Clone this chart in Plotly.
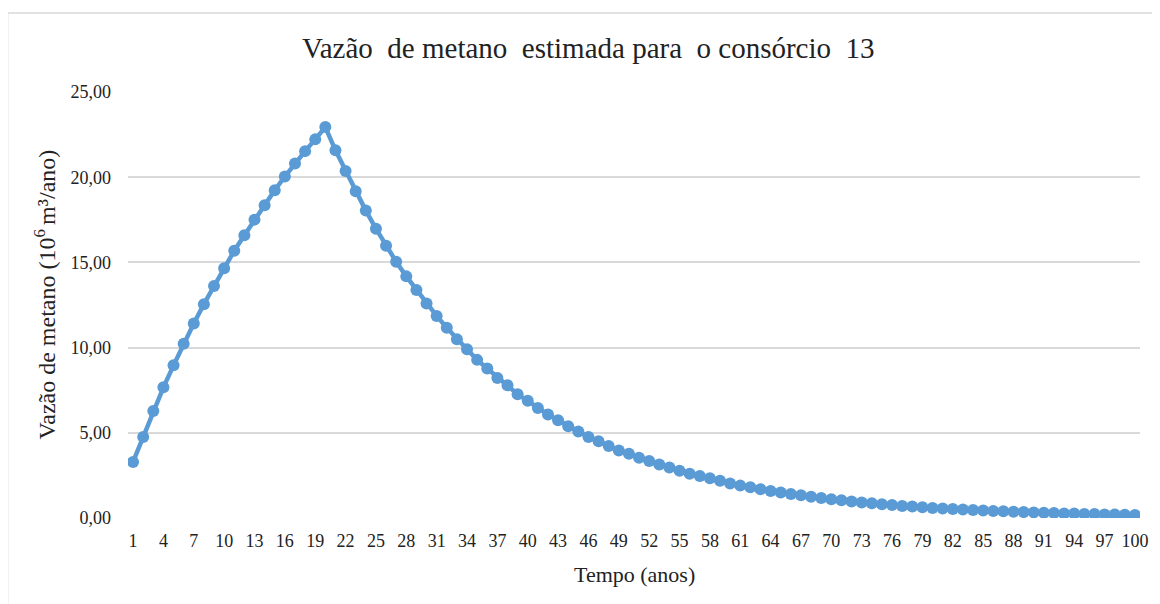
import plotly.graph_objects as go

# ---- data ----
anos = list(range(1, 101))
vazao = [
    3.29, 4.76, 6.28, 7.67, 8.96, 10.22, 11.41, 12.55, 13.61, 14.65,
    15.69, 16.59, 17.51, 18.35, 19.24, 20.04, 20.81, 21.53, 22.22, 22.94,
    21.58, 20.37, 19.18, 18.04, 16.98, 15.98, 15.04, 14.18, 13.38, 12.59,
    11.86, 11.16, 10.49, 9.90, 9.28, 8.77, 8.22, 7.79, 7.26, 6.88,
    6.45, 6.08, 5.74, 5.39, 5.08, 4.76, 4.51, 4.22, 3.96, 3.77,
    3.53, 3.34, 3.14, 2.96, 2.77, 2.60, 2.47, 2.33, 2.18, 2.03,
    1.90, 1.80, 1.69, 1.59, 1.49, 1.41, 1.33, 1.25, 1.18, 1.10,
    1.04, 0.97, 0.91, 0.86, 0.81, 0.76, 0.71, 0.67, 0.63, 0.59,
    0.56, 0.53, 0.50, 0.47, 0.44, 0.41, 0.39, 0.37, 0.35, 0.33,
    0.31, 0.29, 0.27, 0.26, 0.24, 0.23, 0.21, 0.20, 0.19, 0.17,
]
x_tick_vals = [1, 4, 7, 10, 13, 16, 19, 22, 25, 28, 31, 34, 37, 40, 43, 46, 49,
               52, 55, 58, 61, 64, 67, 70, 73, 76, 79, 82, 85, 88, 91, 94, 97, 100]
y_tick_vals = [0, 5, 10, 15, 20, 25]

titulo = "Vazão\u00a0 de metano\u00a0 estimada para\u00a0 o consórcio\u00a0 13"
titulo_x = "Tempo (anos)"
titulo_y = "Vazão de metano (10<sup>6 </sup>m³/ano)"

FONT = "Liberation Serif, Times New Roman, serif"
BLUE = "#5B9BD5"
GRID = "#D9D9D9"
TXT = "#222222"

# page body has an 8px margin: the figure is drawn offset by (8, 8)
OFF = 8
W, H = 1160 - OFF, 604 - OFF
# plot area in page pixels: x 128..1145, y 92..518
L = 128 - OFF
R = W - (1145 - OFF)
T = 92 - OFF
B = H - (518 - OFF)

fig = go.Figure()
fig.add_trace(go.Scatter(
    x=anos, y=vazao, mode="lines+markers",
    line=dict(color=BLUE, width=4.5),
    marker=dict(color=BLUE, size=12),
    showlegend=False, hoverinfo="x+y",
))

pw = W - L - R
ph = H - T - B


def px_to_paper_x(px):
    return (px - OFF - L) / pw


def py_to_paper_y(py):
    return (H - B - (py - OFF)) / ph


fig.update_layout(
    width=W, height=H,
    margin=dict(l=L, r=R, t=T, b=B),
    paper_bgcolor="white", plot_bgcolor="white",
    separators=",.",
    font=dict(family=FONT, color=TXT, size=18),
    xaxis=dict(
        range=[0.5, 100.5], tickmode="array", tickvals=x_tick_vals,
        ticktext=[str(v) for v in x_tick_vals],
        showgrid=False, zeroline=False, showline=False, ticks="",
        tickfont=dict(size=18, family=FONT, color=TXT),
        ticklabelstandoff=10,
    ),
    yaxis=dict(
        range=[0, 25], tickmode="array", tickvals=y_tick_vals,
        tickformat=".2f", showgrid=True, gridcolor=GRID, gridwidth=1.5,
        zeroline=False, showline=False, ticks="",
        tickfont=dict(size=18, family=FONT, color=TXT),
        ticklabelstandoff=16,
    ),
    annotations=[
        dict(text=titulo, xref="paper", yref="paper",
             x=px_to_paper_x(591), y=py_to_paper_y(48),
             xanchor="center", yanchor="middle", showarrow=False,
             font=dict(size=29, family=FONT, color=TXT)),
        dict(text=titulo_x, xref="paper", yref="paper",
             x=px_to_paper_x(637), y=py_to_paper_y(574),
             xanchor="center", yanchor="middle", showarrow=False,
             font=dict(size=22, family=FONT, color=TXT)),
        dict(text=titulo_y, xref="paper", yref="paper",
             x=px_to_paper_x(45), y=py_to_paper_y(294),
             xanchor="center", yanchor="middle", showarrow=False, textangle=-90,
             font=dict(size=24, family=FONT, color=TXT)),
    ],
    shapes=[
        dict(type="rect", xref="paper", yref="paper",
             x0=px_to_paper_x(7), x1=px_to_paper_x(1180),
             y0=py_to_paper_y(640), y1=py_to_paper_y(13),
             line=dict(color=GRID, width=1.5), fillcolor="rgba(0,0,0,0)",
             layer="below"),
    ],
)

fig.write_html("out.html")
